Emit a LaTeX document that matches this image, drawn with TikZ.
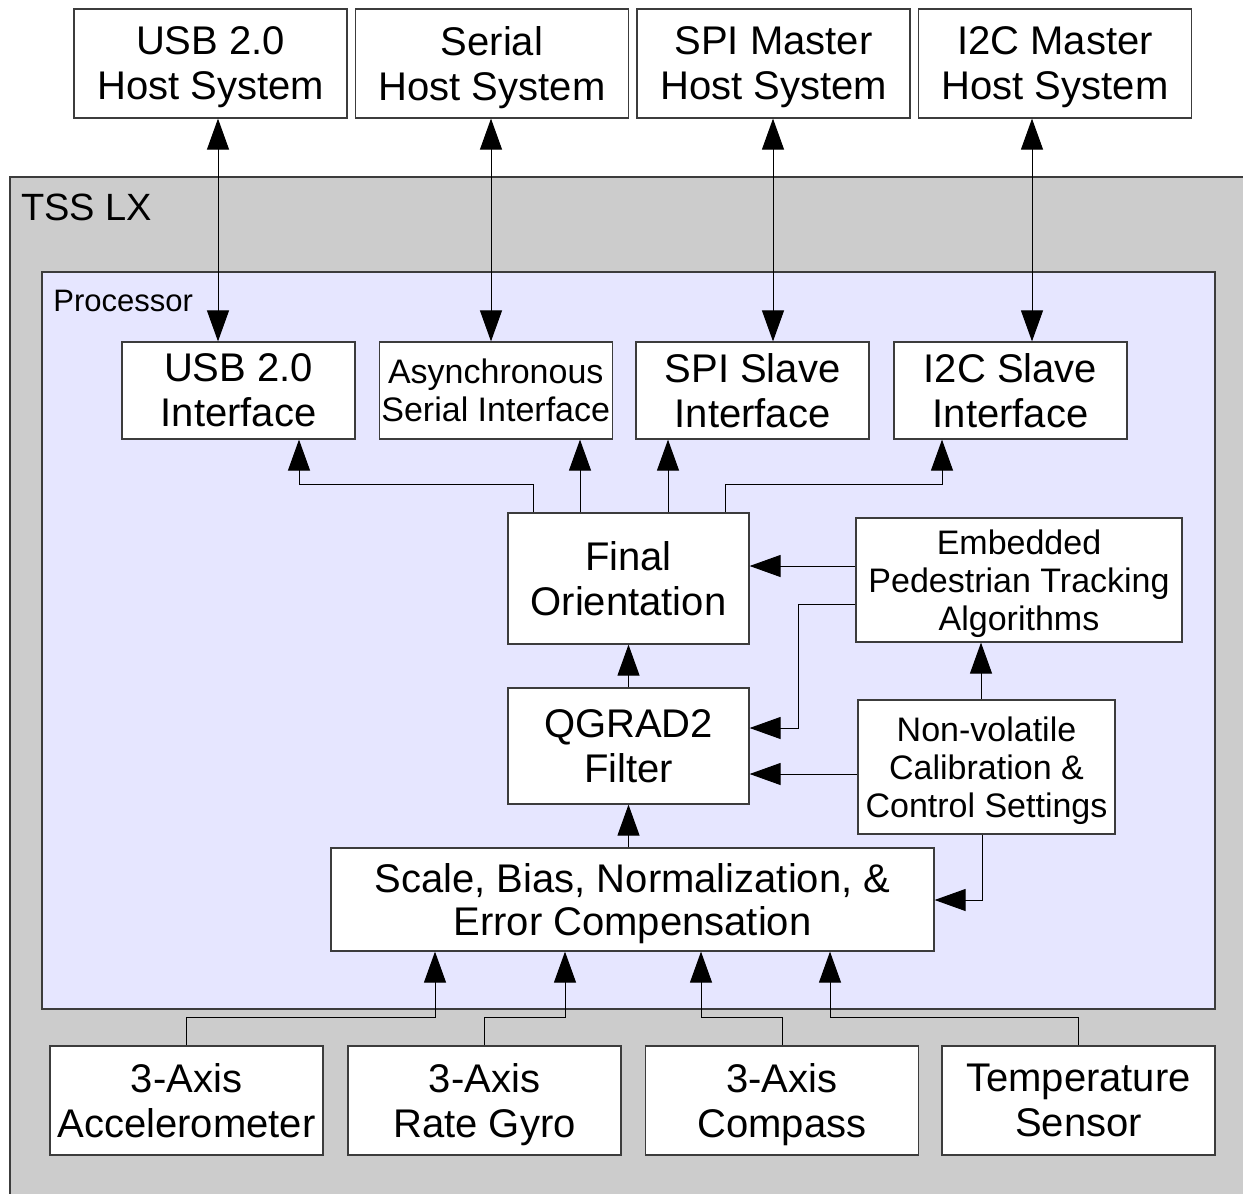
\documentclass[tikz,border=0pt]{standalone}
\usepackage{fontspec}
\setmainfont{Liberation Sans}
\usepackage{tikz}
\usetikzlibrary{arrows.meta}
\definecolor{tssgray}{HTML}{CCCCCC}
\definecolor{cpufill}{HTML}{E6E6FF}
\definecolor{boxline}{HTML}{3C3C3C}
\tikzstyle{block}=[rectangle, draw=boxline, line width=0.6pt, fill=white, inner sep=0pt, align=center, text depth=0pt, font=\fontsize{20}{22.5}\selectfont]
\tikzstyle{smallblock}=[block, font=\fontsize{17}{19}\selectfont]
\tikzstyle{host}=[block, minimum width=136.5pt, minimum height=54.5pt]
\tikzstyle{iface}=[block, minimum width=116.5pt, minimum height=48.5pt]
\tikzstyle{sensor}=[block, minimum width=136.5pt, minimum height=54.5pt]
\tikzstyle{link}=[line width=0.5pt, black]
\begin{document}
\begin{tikzpicture}[x=0.5pt,y=-0.5pt,>={Triangle[length=15.5pt,width=11pt]}]
    \useasboundingbox (0,0) rectangle (1243,1194);
    % board and processor
    \fill[tssgray] (10,177) rectangle (1243,1194);
    \draw[boxline, line width=0.6pt] (10,1194) |- (1243,177);
    \node (tss) [anchor=base west, inner sep=0pt, font=\fontsize{19}{19}\selectfont] at (21,220) {TSS LX};
    \draw[boxline, fill=cpufill, line width=0.6pt] (42,272) rectangle (1215,1009);
    \node (cpu) [anchor=base west, inner sep=0pt, font=\fontsize{15.5}{15.5}\selectfont] at (53,311) {Processor};
    % host systems
    \node (HUSB) [host] at (210.5,63.5) {USB 2.0\\Host System};
    \node (HSER) [host] at (492,63.5) {Serial\\Host System};
    \node (HSPI) [host] at (773.5,63.5) {SPI Master\\Host System};
    \node (HI2C) [host] at (1055,63.5) {I2C Master\\Host System};
    % interfaces
    \node (IUSB) [iface] at (238.5,390.5) {USB 2.0\\Interface};
    \node (ISER) [iface, smallblock] at (495.75,390.5) {Asynchronous\\Serial Interface};
    \node (ISPI) [iface] at (752.5,390.5) {SPI Slave\\Interface};
    \node (II2C) [iface] at (1010.5,390.5) {I2C Slave\\Interface};
    % processing chain
    \node (FO) [block, minimum width=120.5pt, minimum height=65.5pt] at (628.5,578.5) {Final\\Orientation};
    \node (QG) [block, minimum width=120.5pt, minimum height=58pt] at (628.5,746) {QGRAD2\\Filter};
    \node (EPT) [smallblock, minimum width=163pt, minimum height=62pt] at (1019,580) {Embedded\\Pedestrian Tracking\\Algorithms};
    \node (NV) [smallblock, minimum width=128.5pt, minimum height=67pt] at (986.5,767) {Non-volatile\\Calibration \&\\Control Settings};
    \node (SB) [block, font=\fontsize{20}{21.5}\selectfont, minimum width=301.5pt, minimum height=51.5pt] at (632.5,899.5) {Scale, Bias, Normalization, \&\\Error Compensation};
    % sensors
    \node (ACC) [sensor] at (186.5,1100.5) {3-Axis\\Accelerometer};
    \node (GYR) [sensor] at (484.5,1100.5) {3-Axis\\Rate Gyro};
    \node (CMP) [sensor] at (782,1100.5) {3-Axis\\Compass};
    \node (TMP) [sensor] at (1078.5,1100.5) {Temperature\\Sensor};

    \draw[link,<->] (HUSB.south -| 218,0) -- (IUSB.north -| 218,0);
    \draw[link,<->] (HSER.south -| 491,0) -- (ISER.north -| 491,0);
    \draw[link,<->] (HSPI.south -| 773,0) -- (ISPI.north -| 773,0);
    \draw[link,<->] (HI2C.south -| 1032,0) -- (II2C.north -| 1032,0);

    \draw[link,->] (FO.north -| 533,0) |- (299,484) -- (IUSB.south -| 299,0);
    \draw[link,->] (FO.north -| 580,0) -- (ISER.south -| 580,0);
    \draw[link,->] (FO.north -| 668,0) -- (ISPI.south -| 668,0);
    \draw[link,->] (FO.north -| 725,0) |- (942,484) -- (II2C.south -| 942,0);

    \draw[link,->] (EPT.west |- 0,566) -- (FO.east |- 0,566);
    \draw[link,->] (EPT.west |- 0,604) -| (798,728) -- (QG.east |- 0,728);
    \draw[link,->] (NV.west |- 0,774) -- (QG.east |- 0,774);
    \draw[link,->] (NV.north -| 981,0) -- (EPT.south -| 981,0);
    \draw[link,->] (NV.south -| 982,0) |- (SB.east |- 0,900);
    \draw[link,->] (QG.north) -- (FO.south);
    \draw[link,->] (SB.north -| QG.south) -- (QG.south);

    \draw[link,->] (ACC.north) |- (435,1017) -- (SB.south -| 435,0);
    \draw[link,->] (GYR.north) |- (565,1017) -- (SB.south -| 565,0);
    \draw[link,->] (CMP.north) |- (701,1017) -- (SB.south -| 701,0);
    \draw[link,->] (TMP.north) |- (830,1017) -- (SB.south -| 830,0);
\end{tikzpicture}
\end{document}
